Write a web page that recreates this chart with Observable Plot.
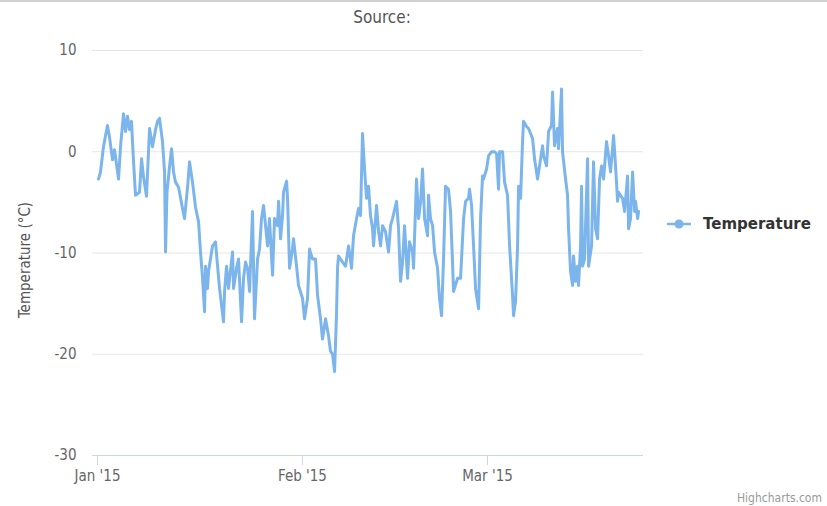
<!DOCTYPE html>
<html>
<head>
<meta charset="utf-8">
<script src="https://cdn.jsdelivr.net/npm/d3@7"></script>
<script src="https://cdn.jsdelivr.net/npm/@observablehq/plot@0.6"></script>
<style>
  html, body { margin: 0; padding: 0; background: #fff; }
  #wrap { position: relative; width: 827px; height: 506px; overflow: hidden; border-top: 2px solid #d0d0d0; box-sizing: border-box; }
  #chart { position: absolute; left: 0; top: -2px; }
  .ov { position: absolute; white-space: nowrap; font-family: "DejaVu Sans Condensed", "DejaVu Sans", sans-serif; }
  #title { left: 382px; top: 5px; transform: translateX(-50%); font-size: 17px; color: #555; }
  #ytitle { left: 25px; top: 258px; transform: translate(-50%, -50%) rotate(-90deg); font-size: 15px; color: #555; }
  #legend { left: 666px; top: 213px; font-family: "DejaVu Sans", sans-serif; font-weight: bold; font-size: 15px; color: #333; display: flex; align-items: center; }
  #legend svg { margin-right: 11px; }
  #credit { right: 5px; top: 489px; font-size: 12px; color: #999; }
</style>
</head>
<body>
<div id="wrap">
  <div id="chart"></div>
  <div class="ov" id="title">Source:</div>
  <div class="ov" id="ytitle">Temperature (°C)</div>
  <div class="ov" id="legend"><svg width="26" height="12"><line x1="1" y1="6" x2="25" y2="6" stroke="#7cb5ec" stroke-width="2.5"/><circle cx="13" cy="6" r="4.5" fill="#7cb5ec"/></svg><span>Temperature</span></div>
  <div class="ov" id="credit">Highcharts.com</div>
</div>
<script>
// Days since 2015-01-01 (fractional) and temperature readings (°C)
const dayOffsets = [
  0.15,0.45,0.9,1.5,1.8,2.27,2.57,3.18,3.48,3.93,4.24,4.54,4.84,5.14,5.45,5.75,6.35,6.66,6.96,7.41,
  7.87,8.32,8.78,9.08,9.38,9.83,10.14,10.29,10.51,10.89,11.2,11.5,11.8,12.26,12.86,13.16,13.62,13.92,14.37,14.83,
  15.28,15.58,15.89,16.19,16.34,16.64,16.8,17.4,17.85,18.16,18.46,19.06,19.22,19.52,19.82,20.43,20.58,21.03,21.33,21.79,
  22.09,22.39,22.7,23.0,23.45,23.75,24.21,24.51,24.81,25.12,25.42,25.72,26.02,26.48,26.78,27.23,27.39,27.69,27.99,28.14,
  28.6,28.75,29.05,29.5,29.65,30.11,30.41,31.02,31.32,31.77,32.08,32.23,32.53,32.98,33.29,33.74,34.04,34.5,34.95,35.25,
  35.56,35.86,36.16,36.31,36.46,37.07,37.52,37.98,38.43,38.73,39.19,39.49,39.79,40.09,40.4,40.7,41.0,41.3,41.61,41.76,
  42.21,42.52,42.82,43.12,43.57,44.03,44.33,44.63,45.24,45.54,45.84,46.15,46.45,46.9,47.2,47.66,47.81,48.26,48.57,48.87,
  49.17,49.48,49.93,50.08,50.38,50.69,50.99,51.44,51.74,52.05,52.35,52.65,53.1,53.41,53.71,53.86,54.47,54.92,55.38,55.68,
  56.13,56.28,56.59,56.89,57.19,57.65,57.95,58.25,58.4,58.86,59.16,59.61,60.07,60.37,60.67,60.82,61.28,61.58,62.03,62.34,
  62.79,62.94,63.24,63.55,63.7,64.0,64.3,64.45,64.91,65.21,65.82,66.12,66.57,66.87,67.33,67.48,67.93,68.24,68.69,68.84,
  69.14,69.6,69.75,70.2,70.35,70.81,71.11,71.26,71.56,71.87,72.02,72.32,72.62,72.77,73.08,73.23,73.38,73.68,74.14,74.29,
  74.74,75.04,75.35,75.65,75.95,76.26,76.56,77.01,77.31,77.62,78.07,78.37,78.68,78.83,79.43,79.74,80.19,80.34,80.64,80.95,
  81.25,81.4,81.71,81.86
];
const temperatures = [
  -2.7,-2.0,0.5,2.6,1.5,-0.8,0.2,-2.7,0.5,3.75,2.0,3.5,2.2,3.0,-1.0,-4.3,-4.0,-0.7,-2.5,-4.4,
  2.3,0.5,2.2,3.0,3.3,1.0,-2.0,-9.9,-4.0,-1.5,0.3,-2.0,-3.0,-3.5,-5.6,-6.6,-3.5,-1.0,-3.0,-5.5,
  -6.9,-9.9,-12.5,-15.8,-11.3,-13.5,-11.8,-9.3,-8.9,-11.3,-13.5,-16.8,-13.8,-11.3,-13.5,-9.9,-13.5,-11.5,-10.6,-16.8,
  -12.5,-10.9,-11.5,-13.8,-5.9,-16.5,-10.6,-9.6,-6.6,-5.3,-7.3,-9.3,-6.6,-12.2,-6.6,-7.3,-4.9,-8.6,-6.3,-4.0,
  -2.9,-4.6,-11.5,-9.6,-8.6,-11.3,-13.2,-14.5,-16.5,-14.5,-9.6,-10.0,-10.6,-10.6,-14.2,-16.5,-18.5,-16.5,-18.2,-19.7,
  -20.0,-21.7,-16.0,-11.5,-10.3,-10.9,-11.3,-9.3,-11.5,-8.3,-6.6,-5.6,-6.3,1.8,-1.7,-4.6,-3.4,-6.3,-7.6,-9.3,
  -5.3,-7.9,-9.3,-7.3,-7.9,-9.9,-7.3,-6.6,-4.9,-7.6,-12.8,-10.9,-7.3,-12.5,-8.9,-9.9,-11.5,-2.7,-6.6,-5.0,
  -1.7,-6.6,-8.3,-4.3,-6.6,-7.3,-9.9,-11.5,-14.5,-16.2,-10.6,-3.4,-3.7,-5.9,-10.9,-13.8,-12.5,-12.5,-6.6,-4.9,
  -4.6,-3.7,-5.3,-9.3,-13.5,-15.5,-6.6,-2.4,-2.7,-1.7,-0.4,0.0,0.0,-0.2,-3.7,0.0,0.0,-3.0,-4.3,-9.3,
  -14.2,-16.2,-14.8,-9.3,-3.4,-4.6,1.0,3.0,2.5,2.3,1.3,-0.7,-2.7,-1.4,0.6,-0.4,-1.4,2.0,2.6,5.9,
  0.6,2.3,0.3,6.2,0.0,-2.7,-4.3,-7.6,-11.8,-13.2,-10.3,-12.8,-11.3,-13.2,-9.3,-3.4,-11.3,-10.6,-0.7,-11.3,
  -9.3,-1.0,-7.6,-8.6,-2.7,-1.4,-2.7,1.0,-0.4,-2.0,1.6,-1.4,-4.9,-4.0,-4.6,-5.9,-2.4,-7.6,-6.6,-2.0,
  -5.9,-4.9,-6.6,-5.9
];
const xTickDays = [0, 31, 59];
const xTickLabels = ["Jan '15", "Feb '15", "Mar '15"];
const yTicks = [-30, -20, -10, 0, 10];
const xDomainDays = [-0.76, 82.6];

const base = Date.UTC(2015, 0, 1);
const toDate = d => new Date(base + d * 86400000);
const data = dayOffsets.map((d, i) => ({date: toDate(d), temp: temperatures[i]}));
const xTicks = xTickDays.map(toDate);
const labelFor = t => xTickLabels[xTicks.findIndex(v => +v === +t)];

const chart = Plot.plot({
  width: 827,
  height: 506,
  marginLeft: 92,
  marginRight: 184,
  marginTop: 50,
  marginBottom: 51,
  style: {fontFamily: "'DejaVu Sans Condensed', 'DejaVu Sans', sans-serif", fontSize: "15px", background: "transparent"},
  x: {type: "utc", domain: xDomainDays.map(toDate)},
  y: {domain: [-30, 10]},
  marks: [
    Plot.gridY(yTicks.filter(v => v > -30), {stroke: "#e6e6e6", strokeOpacity: 1}),
    Plot.ruleY([-30], {stroke: "#ccd6eb", strokeWidth: 1}),
    Plot.axisY(yTicks, {tickSize: 0, tickPadding: 16, label: null, tickFormat: d => String(d), fill: "#666"}),
    Plot.axisX(xTicks, {tickSize: 10, tickPadding: 5, label: null, tickFormat: labelFor, stroke: "#ccd6eb", fill: "#666"}),
    Plot.line(data, {x: "date", y: "temp", stroke: "#7cb5ec", strokeWidth: 3, strokeLinejoin: "round"})
  ]
});
document.getElementById("chart").appendChild(chart);
</script>
</body>
</html>
